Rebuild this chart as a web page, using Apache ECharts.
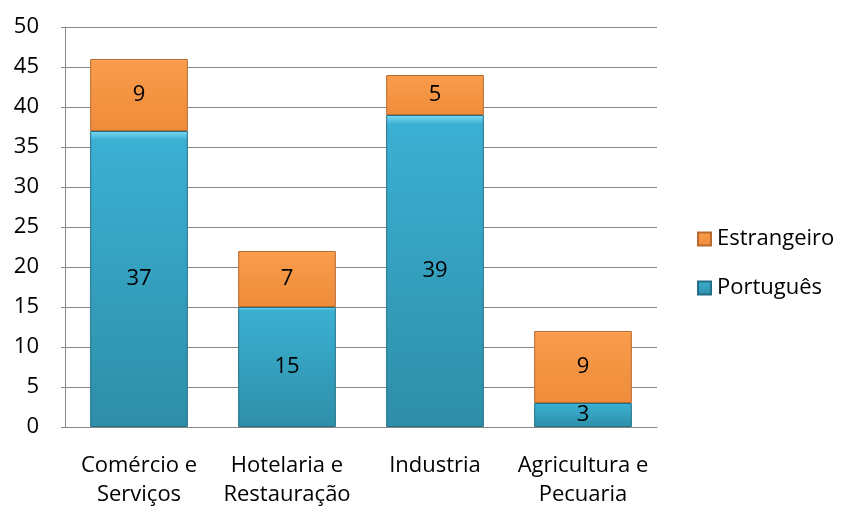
<!DOCTYPE html>
<html>
<head>
<meta charset="utf-8">
<script src="https://cdn.jsdelivr.net/npm/echarts@6/dist/echarts.min.js"></script>
<style>
  html, body { margin: 0; padding: 0; background: #fff; }
  #chart { width: 847px; height: 506px; }
</style>
</head>
<body>
<div id="chart"></div>
<script>
var categories = ['Comércio e\nServiços', 'Hotelaria e\nRestauração', 'Industria', 'Agricultura e\nPecuaria'];
var portugues = [37, 15, 39, 3];
var estrangeiro = [9, 7, 5, 9];
var yTicks = { min: 0, max: 50, interval: 5 };

var fontName = '"Open Sans", Lato, sans-serif';
var fs = 22;

// efeito bisel aproximado: brilho em cima, escurece para baixo
function bevel(top, mid, bottom) {
  return new echarts.graphic.LinearGradient(0, 0, 0, 1, [
    { offset: 0, color: top },
    { offset: 0.03, color: mid },
    { offset: 1, color: bottom }
  ]);
}

var myChart = echarts.init(document.getElementById('chart'));
var option = {
  animation: false,
  textStyle: { fontFamily: fontName },
  grid: { left: 65, right: 190, top: 27, bottom: 79, outerBoundsMode: 'none' },
  legend: {
    orient: 'vertical',
    left: 697,
    top: 228,
    padding: 0,
    itemGap: 27,
    itemWidth: 13,
    itemHeight: 13,
    icon: 'rect',
    data: ['Estrangeiro', 'Português'],
    textStyle: { fontSize: fs, color: '#000', fontFamily: fontName, padding: [0, 0, 0, 1] }
  },
  xAxis: {
    type: 'category',
    data: categories,
    axisLine: { lineStyle: { color: '#868686' } },
    axisTick: { show: false },
    axisLabel: { fontSize: fs, color: '#000', lineHeight: 29, margin: 24, interval: 0 }
  },
  yAxis: {
    type: 'value',
    min: yTicks.min,
    max: yTicks.max,
    interval: yTicks.interval,
    axisLine: { show: true, lineStyle: { color: '#868686' } },
    axisTick: { show: true, length: 4, inside: false, lineStyle: { color: '#868686' } },
    splitLine: { lineStyle: { color: '#868686' } },
    axisLabel: { fontSize: fs, color: '#000', margin: 26 }
  },
  series: [
    {
      name: 'Português',
      type: 'bar',
      stack: 'total',
      barWidth: '66%',
      data: portugues,
      itemStyle: {
        color: bevel('#7fd9f2', '#3bb0d3', '#2e8ea8'),
        borderColor: '#226f86',
        borderWidth: 1
      },
      label: { show: true, position: 'inside', fontSize: fs, color: '#000' }
    },
    {
      name: 'Estrangeiro',
      type: 'bar',
      stack: 'total',
      barWidth: '66%',
      data: estrangeiro,
      itemStyle: {
        color: bevel('#fcc38c', '#f99c4b', '#ee8c3b'),
        borderColor: '#b8692e',
        borderWidth: 1
      },
      label: { show: true, position: 'inside', fontSize: fs, color: '#000' }
    }
  ]
};
myChart.setOption(option);
</script>
</body>
</html>
